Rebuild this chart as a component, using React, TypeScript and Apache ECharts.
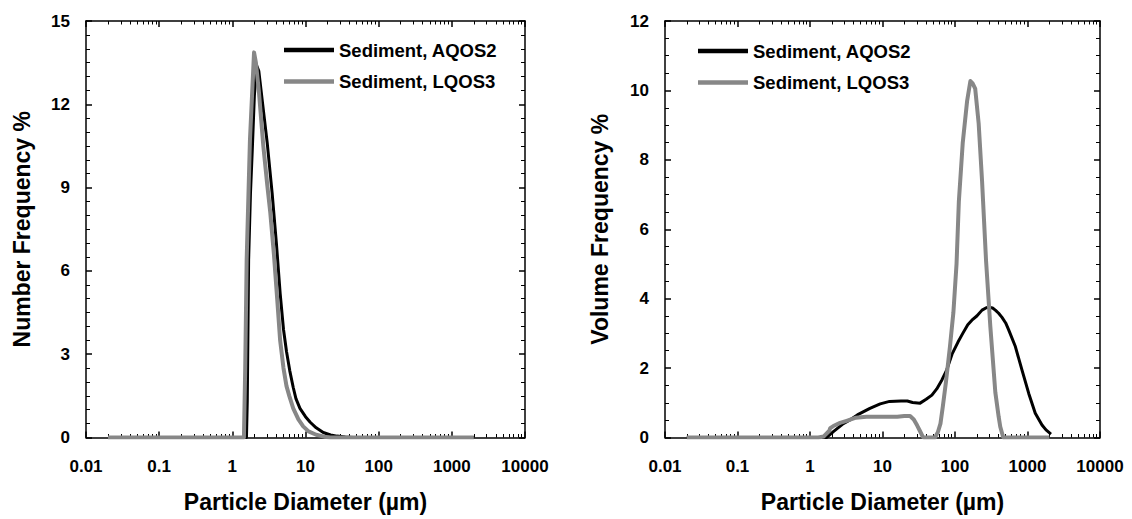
import React, { useEffect, useRef } from 'react';
import * as echarts from 'echarts';

const FONT = '"Liberation Sans", Arial, Helvetica, sans-serif';

const seriesNames = ['Sediment, AQOS2', 'Sediment, LQOS3'];
const xTickLabels = ['0.01', '0.1', '1', '10', '100', '1000', '10000'];
const decades = [0.01, 0.1, 1, 10, 100, 1000];
const minorMultipliers = [2, 3, 4, 5, 6, 7, 8, 9];
const leftYTicks = [0, 3, 6, 9, 12, 15];
const rightYTicks = [0, 2, 4, 6, 8, 10, 12];
const xAxisTitle = 'Particle Diameter (µm)';
const leftYTitle = 'Number Frequency %';
const rightYTitle = 'Volume Frequency %';

// Left panel: number frequency
const numberAQOS2: [number, number][] = [
  [0.02, 0], [1.56, 0], [1.6, 1.3], [1.67, 6.4], [1.77, 8.8], [1.87, 10.3], [2.0, 12.3],
  [2.15, 13.4], [2.3, 13.2], [2.6, 12.0], [3.0, 10.6], [3.5, 8.8], [4.0, 7.0], [4.5, 5.2],
  [5.0, 3.9], [5.5, 3.1], [6.1, 2.4], [6.8, 1.8], [7.4, 1.4], [8.4, 1.05], [10, 0.75],
  [11.6, 0.55], [14, 0.35], [17.5, 0.18], [22, 0.09], [27, 0.05], [35, 0.02], [45, 0], [2000, 0],
];
const numberLQOS3: [number, number][] = [
  [0.02, 0], [1.44, 0], [1.5, 2.5], [1.57, 6.4], [1.74, 10.7], [1.98, 13.87], [2.1, 13.5],
  [2.3, 12.5], [2.65, 10.5], [3.0, 9.1], [3.3, 8.1], [3.7, 6.6], [4.1, 5.0], [4.5, 3.5],
  [5.0, 2.5], [5.5, 1.85], [6.0, 1.5], [6.8, 1.05], [8, 0.65], [9.3, 0.4], [11, 0.22],
  [14, 0.1], [18, 0.03], [22, 0], [2000, 0],
];

// Right panel: volume frequency
const volumeAQOS2: [number, number][] = [
  [0.02, 0], [1.7, 0], [2.1, 0.17], [2.8, 0.38], [3.5, 0.5], [4.5, 0.65], [6.7, 0.84],
  [9.3, 0.97], [12.5, 1.04], [18, 1.05], [22, 1.05], [26, 1.01], [33, 0.99], [40, 1.1],
  [48, 1.22], [56, 1.4], [66, 1.66], [77, 1.95], [91, 2.4], [110, 2.75], [128, 3.0],
  [150, 3.25], [171, 3.38], [200, 3.5], [236, 3.67], [270, 3.74], [292, 3.75], [330, 3.73],
  [360, 3.67], [400, 3.58], [445, 3.46], [500, 3.3], [550, 3.1], [680, 2.62], [840, 1.94],
  [1040, 1.27], [1280, 0.7], [1585, 0.36], [1800, 0.22], [2110, 0.1],
];
const volumeLQOS3: [number, number][] = [
  [0.02, 0], [1.3, 0], [1.55, 0.03], [1.85, 0.2], [1.9, 0.27], [2.1, 0.33], [2.6, 0.42],
  [3.2, 0.48], [4.3, 0.57], [6, 0.6], [10, 0.6], [16, 0.6], [20, 0.62], [24, 0.62],
  [27, 0.52], [30, 0.35], [33, 0.18], [36, 0.02], [37, 0], [53, 0], [58, 0.15], [63, 0.4],
  [68, 0.9], [75, 1.6], [85, 2.6], [95, 3.6], [105, 5.0], [113, 6.8], [128, 8.5], [147, 9.7],
  [163, 10.27], [175, 10.2], [190, 10.05], [212, 9.05], [236, 7.4], [268, 5.1], [307, 3.2],
  [360, 1.3], [400, 0.6], [421, 0.31], [460, 0.02], [470, 0], [2000, 0],
];

const BLACK = '#000000';
const GRAY = '#878787';

const minorValues = decades.flatMap((d) => minorMultipliers.map((k) => Number((k * d).toPrecision(3))));

const labelStyle = { color: '#000', fontFamily: FONT, fontWeight: 'bold' as const, fontSize: 17 };
const titleStyle = { color: '#000', fontFamily: FONT, fontWeight: 'bold' as const, fontSize: 23 };
const axisLineStyle = { color: '#000', width: 1.5 };

function labelFor(v: number) {
  const idx = Math.round(Math.log10(v)) + 2;
  return xTickLabels[idx] ?? '';
}

function mainXAxes(gridIndex: number) {
  const base = {
    type: 'log' as const,
    gridIndex,
    logBase: 10,
    min: 0.01,
    max: 10000,
    splitLine: { show: false },
    minorTick: { show: false },
    minorSplitLine: { show: false },
  };
  return [
    {
      ...base,
      position: 'bottom',
      axisLine: { show: true, onZero: false, lineStyle: axisLineStyle },
      axisTick: { show: true, inside: true, length: 6, lineStyle: axisLineStyle },
      axisLabel: { ...labelStyle, margin: 20, formatter: (v: number) => labelFor(v) },
      name: xAxisTitle,
      nameLocation: 'middle',
      nameGap: 53,
      nameTextStyle: titleStyle,
    },
    {
      ...base,
      position: 'top',
      axisLine: { show: true, onZero: false, lineStyle: axisLineStyle },
      axisTick: { show: true, inside: true, length: 6, lineStyle: axisLineStyle },
      axisLabel: { show: false },
    },
  ];
}

function minorXAxes(gridIndex: number) {
  const base = {
    type: 'log' as const,
    gridIndex,
    logBase: 10,
    min: 0.01,
    max: 10000,
    splitLine: { show: false },
    axisLine: { show: false, onZero: false },
    axisLabel: { show: false },
    axisTick: { show: true, inside: true, length: 3.5, customValues: minorValues, lineStyle: { color: '#000', width: 1 } },
  };
  return [
    { ...base, position: 'bottom' },
    { ...base, position: 'top' },
  ];
}

function mainYAxes(gridIndex: number, ticks: number[], split: number, name: string, nameGap: number) {
  const interval = ticks[1] - ticks[0];
  const base = {
    type: 'value' as const,
    gridIndex,
    min: ticks[0],
    max: ticks[ticks.length - 1],
    interval,
    splitLine: { show: false },
    minorSplitLine: { show: false },
    axisLine: { show: true, onZero: false, lineStyle: axisLineStyle },
    axisTick: { show: true, inside: true, length: 6, lineStyle: axisLineStyle },
    minorTick: { show: true, splitNumber: split, length: 4, lineStyle: { color: '#000', width: 1 } },
  };
  return [
    {
      ...base,
      position: 'left',
      axisLabel: { ...labelStyle, margin: 16 },
      name,
      nameLocation: 'middle',
      nameGap,
      nameTextStyle: titleStyle,
    },
    { ...base, position: 'right', axisLabel: { show: false } },
  ];
}

function hiddenYAxis(gridIndex: number) {
  return { type: 'value' as const, gridIndex, min: 0, max: 1, show: false };
}

function legendFor(left: number, top: number) {
  return {
    orient: 'vertical',
    left,
    top,
    padding: 0,
    itemGap: 9.5,
    itemWidth: 50,
    itemHeight: 4.5,
    selectedMode: false,
    textStyle: { color: '#000', fontFamily: FONT, fontWeight: 'bold', fontSize: 18.5, lineHeight: 22 },
    data: [
      { name: seriesNames[0], icon: 'rect', itemStyle: { color: BLACK } },
      { name: seriesNames[1], icon: 'rect', itemStyle: { color: GRAY } },
    ],
  };
}

function lineSeries(name: string, data: [number, number][], color: string, width: number, xAxisIndex: number, yAxisIndex: number, z: number) {
  return {
    type: 'line',
    name,
    data,
    xAxisIndex,
    yAxisIndex,
    symbol: 'none',
    showSymbol: false,
    smooth: false,
    z,
    lineStyle: { color, width, join: 'round' },
    itemStyle: { color },
  };
}

export default function App() {
  const ref = useRef<HTMLDivElement>(null);
  useEffect(() => {
    if (!ref.current) return;
    const chart = echarts.init(ref.current, undefined, { renderer: 'svg' });
    const g0 = { left: 86, top: 21, width: 439, height: 416.5, outerBoundsMode: 'none', containLabel: false };
    const g1 = { left: 665, top: 21, width: 435, height: 416.5, outerBoundsMode: 'none', containLabel: false };
    chart.setOption({
      animation: false,
      backgroundColor: '#ffffff',
      grid: [g0, g0, g1, g1],
      xAxis: [...mainXAxes(0), ...minorXAxes(1), ...mainXAxes(2), ...minorXAxes(3)],
      yAxis: [
        ...mainYAxes(0, leftYTicks, 6, leftYTitle, 53),
        hiddenYAxis(1),
        ...mainYAxes(2, rightYTicks, 4, rightYTitle, 54),
        hiddenYAxis(3),
      ],
      legend: [legendFor(284, 39), legendFor(698, 40)],
      series: [
        lineSeries(seriesNames[0], numberAQOS2, BLACK, 3, 0, 0, 3),
        lineSeries(seriesNames[1], numberLQOS3, GRAY, 4, 0, 0, 4),
        lineSeries(seriesNames[0], volumeAQOS2, BLACK, 3, 4, 3, 3),
        lineSeries(seriesNames[1], volumeLQOS3, GRAY, 4, 4, 3, 4),
      ],
    });
    return () => chart.dispose();
  }, []);
  return (
    <div
      ref={ref}
      style={{ position: 'fixed', left: 0, top: 0, width: 1132, height: 519, background: '#fff' }}
    />
  );
}
